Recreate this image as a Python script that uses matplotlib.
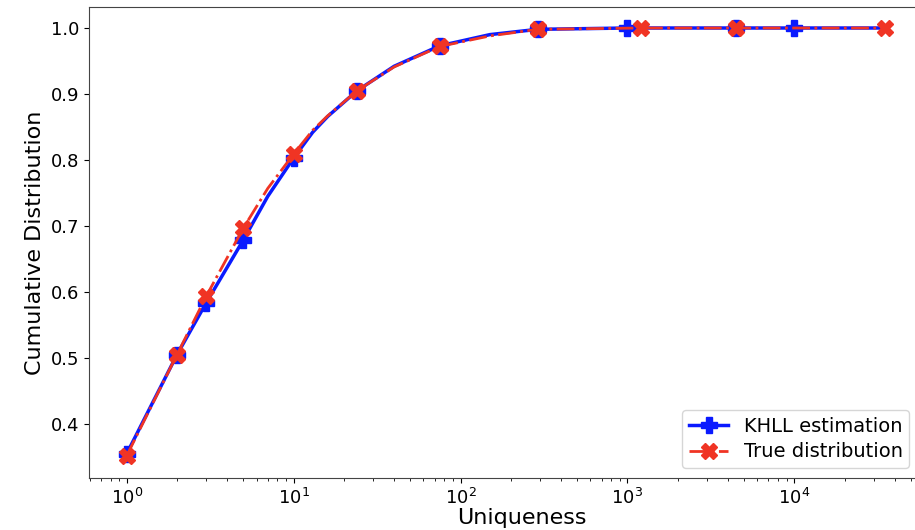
import numpy as np
import matplotlib.pyplot as plt

# uniqueness values and cumulative fraction
khll_x = [1, 2, 3, 5, 7, 10, 13, 16, 24, 40, 75, 150, 290, 1000, 4500, 10000, 35000]
khll_y = [0.355, 0.505, 0.584, 0.679, 0.745, 0.803, 0.842, 0.866, 0.905, 0.942, 0.973, 0.990, 0.998, 1.0, 1.0, 1.0, 1.0]
khll_marks = [0, 1, 2, 3, 5, 8, 10, 12, 13, 14, 15]

true_x = [1, 2, 3, 5, 7, 10, 13, 16, 24, 40, 75, 150, 290, 1200, 4500, 35000]
true_y = [0.352, 0.505, 0.594, 0.697, 0.757, 0.809, 0.845, 0.867, 0.905, 0.941, 0.972, 0.988, 0.998, 1.0, 1.0, 1.0]
true_marks = [0, 1, 2, 3, 5, 8, 10, 12, 13, 14, 15]

fig = plt.figure(figsize=(9.15, 5.30), dpi=100)
ax = fig.add_axes([0.097, 0.098, 0.946, 0.889])

ax.plot(khll_x, khll_y, color='#0a1aff', linestyle='-', linewidth=2.5,
        marker='P', markersize=11, markevery=khll_marks, label='KHLL estimation')
ax.plot(true_x, true_y, color='#f03424', linestyle='-.', linewidth=2,
        marker='X', markersize=11, markevery=true_marks, label='True distribution')

ax.set_xscale('log')
ax.set_xlim(0.592, 91000)
ax.set_ylim(0.318, 1.032)
ax.set_yticks([0.4, 0.5, 0.6, 0.7, 0.8, 0.9, 1.0])
ax.tick_params(labelsize=13)

ax.set_xlabel('Uniqueness', fontsize=16, labelpad=0)
ax.set_ylabel('Cumulative Distribution', fontsize=16)

for s in ax.spines.values():
    s.set_color('#444444')

ax.legend(loc='lower right', bbox_to_anchor=(0.948, 0.021), borderaxespad=0,
          fontsize=14, handlelength=2.0, borderpad=0.35, labelspacing=0.35)

plt.savefig('out.png', dpi=100)
